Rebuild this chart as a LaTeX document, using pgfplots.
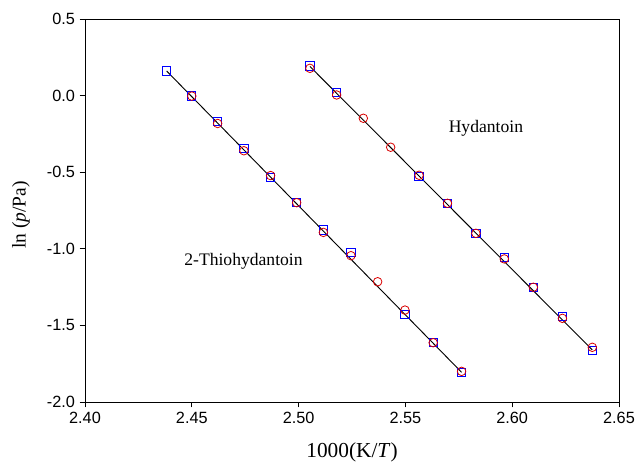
\documentclass[border=0pt]{standalone}
\usepackage{fontspec}
\setmainfont{Liberation Serif}
\setsansfont{Liberation Sans}
\usepackage{pgfplots}
\pgfplotsset{compat=1.18}

% Hydantoin / 2-thiohydantoin vapour pressure, ln(p/Pa) vs 1000 K/T
\pgfplotstableread{
x y
2.4382 0.161
2.4500 -0.003
2.4621 -0.170
2.4744 -0.344
2.4869 -0.533
2.4991 -0.699
2.5116 -0.877
2.5245 -1.023
2.5498 -1.428
2.5630 -1.613
2.5763 -1.806
}\thioSq
\pgfplotstableread{
x y
2.4500 -0.003
2.4621 -0.182
2.4744 -0.360
2.4869 -0.522
2.4991 -0.699
2.5116 -0.893
2.5245 -1.045
2.5370 -1.215
2.5498 -1.400
2.5630 -1.613
2.5763 -1.800
}\thioCi
\pgfplotstableread{
x y
2.5053 0.193
2.5178 0.022
2.5564 -0.529
2.5697 -0.703
2.5830 -0.899
2.5963 -1.058
2.6099 -1.251
2.6235 -1.443
2.6375 -1.665
}\hydSq
\pgfplotstableread{
x y
2.5053 0.178
2.5178 0.004
2.5303 -0.148
2.5431 -0.337
2.5564 -0.520
2.5697 -0.703
2.5830 -0.899
2.5963 -1.066
2.6099 -1.251
2.6235 -1.454
2.6375 -1.643
}\hydCi

\begin{document}
\begin{tikzpicture}
\begin{axis}[
    scale only axis,
    width=400.5pt, height=287.25pt,
    xmin=2.40, xmax=2.65, ymin=-2.0, ymax=0.5,
    xtick={2.40,2.45,...,2.65}, ytick={-2.0,-1.5,...,0.5},
    xticklabels={2.40,2.45,2.50,2.55,2.60,2.65},
    yticklabels={-2.0,-1.5,-1.0,-0.5,0.0,0.5},
    tick align=outside, tick pos=left,
    major tick length=4pt,
    tick style={black, line width=0.6pt},
    axis line style={line width=0.6pt},
    ticklabel style={font=\sffamily\fontsize{12.2}{14}\selectfont},
    xlabel={1000(K/\textit{T})},
    ylabel={ln (\textit{p}/Pa)},
    xlabel style={font=\fontsize{16}{18}\selectfont, at={(axis description cs:0.5,-0.1305)}, anchor=center},
    ylabel style={font=\fontsize{14.6}{17}\selectfont, at={(axis description cs:-0.12,0.488)}, anchor=center},
    clip=false,
]
\addplot[only marks, mark=square, mark size=3.1pt, mark options={blue, line width=0.7pt}] table {\thioSq};
\addplot[only marks, mark=o, mark size=3.2pt, mark options={red!85!black, line width=0.6pt}] table {\thioCi};
\addplot[only marks, mark=square, mark size=3.1pt, mark options={blue, line width=0.7pt}] table {\hydSq};
\addplot[only marks, mark=o, mark size=3.2pt, mark options={red!85!black, line width=0.6pt}] table {\hydCi};
\addplot[black, line width=0.7pt] coordinates {(2.4382,0.161) (2.5763,-1.806)};
\addplot[black, line width=0.7pt] coordinates {(2.5053,0.190) (2.6375,-1.660)};
\node[font=\fontsize{13.2}{15}\selectfont] at (axis cs:2.5877,-0.211) {Hydantoin};
\node[font=\fontsize{13.2}{15}\selectfont] at (axis cs:2.4742,-1.08) {2-Thiohydantoin};
\end{axis}
\path ([xshift=-63.75pt,yshift=-45pt]current axis.south west) rectangle ([xshift=16.5pt,yshift=14.25pt]current axis.north east);
\end{tikzpicture}
\end{document}
